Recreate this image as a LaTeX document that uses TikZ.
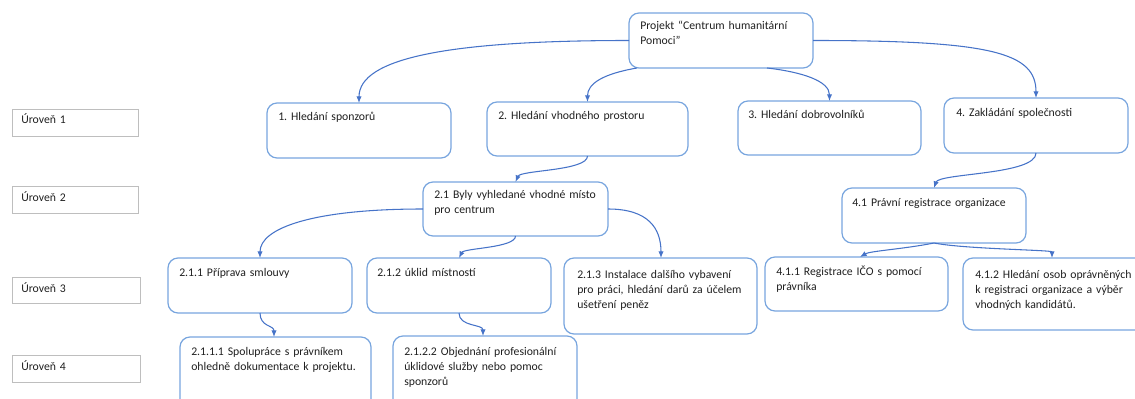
\documentclass[tikz,border=0pt]{standalone}
\usepackage{fontspec}
\setmainfont{Carlito}
\usetikzlibrary{arrows.meta}
\definecolor{boxblue}{RGB}{120,165,222}
\definecolor{linkblue}{RGB}{70,115,200}
\definecolor{lvlgray}{RGB}{190,190,190}
\newcommand\wbsfont{\fontsize{8.8pt}{11.25pt}\selectfont\frenchspacing}
% box from (x1,y1) to (x2,y2), in pixel units
\newcommand\wbsbox[6][wbs]{\node[#1, minimum width={(#5-#3)*0.75pt}, minimum height={(#6-#4)*0.75pt}] (#2) at (#3,#4) {};}
% text placed at an offset from the box's top left corner (first baseline)
\newcommand\wbstxt[4]{\node[wbstext] (#1-t) at ([shift={(#2,#3)}]#1.north west) {#4};}
\begin{document}
\begin{tikzpicture}[x=0.75pt,y=-0.75pt,
  wbs/.style={draw=boxblue, line width=0.9pt, rounded corners=7.5pt, anchor=north west, inner sep=0pt, outer sep=0pt},
  lvl/.style={draw=lvlgray, line width=0.7pt, anchor=north west, inner sep=0pt, outer sep=0pt},
  wbstext/.style={anchor=base west, align=left, text width=5cm, inner sep=0pt, font=\wbsfont, text=black!88},
  link/.style={draw=linkblue, line width=0.8pt, -{Latex[length=5pt,width=4pt]}}]
\useasboundingbox (0,0) rectangle (1135,399);
\clip (0,0) rectangle (1135,399);

% level labels
\wbsbox[lvl]{l1}{12}{109}{138}{136}
\wbsbox[lvl]{l2}{12}{186}{138}{213}
\wbsbox[lvl]{l3}{12}{277}{140}{303}
\wbsbox[lvl]{l4}{12}{355}{140}{382}
\wbstxt{l1}{9}{15}{Úroveň 1}
\wbstxt{l2}{9}{15}{Úroveň 2}
\wbstxt{l3}{9}{15}{Úroveň 3}
\wbstxt{l4}{9}{15}{Úroveň 4}

% work breakdown boxes
\wbsbox{root}{629}{13}{813}{68}
\wbsbox{b1}{267}{103}{451}{158}
\wbsbox{b2}{487}{102}{688}{156}
\wbsbox{b3}{738}{101}{921}{155}
\wbsbox{b4}{944}{98}{1128}{153}
\wbsbox{n21}{423}{182}{608}{236}
\wbsbox{n41}{842}{188}{1026}{243}
\wbsbox{n211}{168}{258}{352}{313}
\wbsbox{n212}{367}{258}{551}{313}
\wbsbox{n213}{564}{258}{757}{334}
\wbsbox{n411}{765}{257}{948}{311}
\wbsbox{n412}{963}{258}{1150}{330}
\wbsbox{n2111}{180}{337}{371}{420}
\wbsbox{n2122}{393}{336}{577}{420}

\wbstxt{root}{11}{17}{Projekt “Centrum humanitární\\Pomoci”}
\wbstxt{b1}{11}{17.5}{1. Hledání sponzorů}
\wbstxt{b2}{11}{18}{2. Hledání vhodného prostoru}
\wbstxt{b3}{10}{17.5}{3. Hledání dobrovolníků}
\wbstxt{b4}{12}{19}{4. Zakládání společnosti}
\wbstxt{n21}{11}{17}{2.1 Byly vyhledané vhodné místo\\pro centrum}
\wbstxt{n41}{10}{18}{4.1 Právní registrace organizace}
\wbstxt{n211}{11}{18.5}{2.1.1 Příprava smlouvy}
\wbstxt{n212}{10}{18}{2.1.2 úklid místností}
\wbstxt{n213}{13}{20}{2.1.3 Instalace dalšího vybavení\\pro práci, hledání darů za účelem\\ušetření peněz}
\wbstxt{n411}{11}{18}{4.1.1 Registrace IČO s pomocí\\právníka}
\wbstxt{n412}{12}{20}{4.1.2 Hledání osob oprávněných\\k registraci organizace a výběr\\vhodných kandidátů.}
\wbstxt{n2111}{11}{18}{2.1.1.1 Spolupráce s právníkem\\ohledně dokumentace k projektu.}
\wbstxt{n2122}{11}{19}{2.1.2.2 Objednání profesionální\\úklidové služby nebo pomoc\\sponzorů}

% connectors
\draw[link] (root.west) .. controls +(-180,0) and +(0,-45) .. (b1.north);
\draw[link] (root.east) .. controls +(180,0) and +(0,-45) .. (b4.north);
\draw[link] ([shift={(8,0)}]root.south west) .. controls +(-35,6) and +(0,-18) .. (b2.north);
\draw[link] ([shift={(138,0)}]root.south west) .. controls +(35,4) and +(0,-20) .. (b3.north);
\draw[link] (b2.south) .. controls +(0,15) and +(5,-12) .. (n21.north);
\draw[link] (b4.south) .. controls +(0,22) and +(5,-15) .. (n41.north);
\draw[link] (n21.west) .. controls +(-110,0) and +(0,-30) .. (n211.north);
\draw[link] (n21.south) .. controls +(0,12) and +(5,-10) .. ([shift={(92,0)}]n212.north west);
\draw[link] (n21.east) .. controls +(40,0) and +(0,-30) .. ([shift={(97,0)}]n213.north west);
\draw[link] (n41.south) .. controls +(-30,6) and +(10,-6) .. ([shift={(95,0)}]n411.north west);
\draw[link] (n41.south) .. controls +(30,6) and +(0,-8) .. ([shift={(89,0)}]n412.north west);
\draw[link] (n211.south) .. controls +(0,14) and +(0,-12) .. ([shift={(94,0)}]n2111.north west);
\draw[link] (n212.south) .. controls +(0,14) and +(0,-12) .. ([shift={(90,0)}]n2122.north west);
\end{tikzpicture}
\end{document}
